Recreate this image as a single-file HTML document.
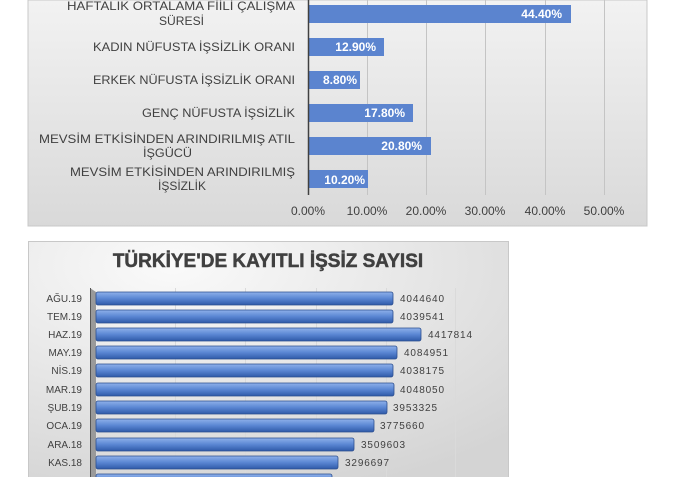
<!DOCTYPE html>
<html><head><meta charset="utf-8"><style>
body{margin:0;width:696px;height:477px;background:#fff;position:relative;overflow:hidden;font-family:"Liberation Sans","DejaVu Sans",sans-serif}
.a{position:absolute}
</style></head><body>
<svg class="a" style="left:0;top:0" width="696" height="477" xmlns="http://www.w3.org/2000/svg">
<defs>
<linearGradient id="bg1" x1="0" y1="0" x2="0" y2="1"><stop offset="0" stop-color="#f2f2f2"/><stop offset="1" stop-color="#d9d9d9"/></linearGradient>
<radialGradient id="bg2" cx="0.3" cy="0.1" r="1"><stop offset="0" stop-color="#fafafa"/><stop offset="1" stop-color="#d4d4d4"/></radialGradient>
<linearGradient id="b2" x1="0" y1="0" x2="0" y2="1"><stop offset="0" stop-color="#8fb1ea"/><stop offset="0.5" stop-color="#5a86d3"/><stop offset="1" stop-color="#2f5aa8"/></linearGradient>
</defs>
<rect x="28" y="0" width="619" height="226" fill="url(#bg1)" stroke="#c8c8c8"/>
<g stroke="#c4c4c4" stroke-width="1">
<line x1="367.5" y1="0" x2="367.5" y2="195"/><line x1="426.5" y1="0" x2="426.5" y2="195"/><line x1="485.5" y1="0" x2="485.5" y2="195"/><line x1="545.5" y1="0" x2="545.5" y2="195"/><line x1="604.5" y1="0" x2="604.5" y2="195"/>
</g>
<g fill="#5b84cf">
<rect x="309" y="5" width="262" height="18"/>
<rect x="309" y="38" width="75" height="18"/>
<rect x="309" y="71" width="51" height="18"/>
<rect x="309" y="104" width="104" height="18"/>
<rect x="309" y="137" width="122" height="18"/>
<rect x="309" y="170" width="59" height="18"/>
</g>
<line x1="308.5" y1="0" x2="308.5" y2="195" stroke="#404040" stroke-width="1.5"/>
<g fill="#fff" font-size="12" font-weight="bold" text-anchor="end" font-family="Liberation Sans,sans-serif">
<text x="562" y="18">44.40%</text><text x="376" y="51">12.90%</text><text x="357" y="84">8.80%</text><text x="405" y="117">17.80%</text><text x="422" y="150">20.80%</text><text x="365" y="184">10.20%</text>
</g>
<g fill="#404040" font-size="12" font-family="Liberation Sans,sans-serif" lengthAdjust="spacingAndGlyphs">
<text x="67" y="10" textLength="228" lengthAdjust="spacingAndGlyphs">HAFTALIK ORTALAMA FİİLİ ÇALIŞMA</text><text x="159" y="25" textLength="45" lengthAdjust="spacingAndGlyphs">SÜRESİ</text>
<text x="93" y="51" textLength="202" lengthAdjust="spacingAndGlyphs">KADIN NÜFUSTA İŞSİZLİK ORANI</text>
<text x="93" y="84" textLength="202" lengthAdjust="spacingAndGlyphs">ERKEK NÜFUSTA İŞSİZLİK ORANI</text>
<text x="142" y="117" textLength="153" lengthAdjust="spacingAndGlyphs">GENÇ NÜFUSTA İŞSİZLİK</text>
<text x="39" y="143" textLength="256" lengthAdjust="spacingAndGlyphs">MEVSİM ETKİSİNDEN ARINDIRILMIŞ ATIL</text><text x="143" y="157" textLength="49" lengthAdjust="spacingAndGlyphs">İŞGÜCÜ</text>
<text x="70" y="176" textLength="225" lengthAdjust="spacingAndGlyphs">MEVSİM ETKİSİNDEN ARINDIRILMIŞ</text><text x="158" y="190" textLength="48" lengthAdjust="spacingAndGlyphs">İŞSİZLİK</text>
</g>
<g fill="#404040" font-size="12" text-anchor="middle" font-family="Liberation Sans,sans-serif">
<text x="308" y="215">0.00%</text><text x="367" y="215">10.00%</text><text x="426" y="215">20.00%</text><text x="485" y="215">30.00%</text><text x="545" y="215">40.00%</text><text x="604" y="215">50.00%</text>
</g>

<rect x="28.5" y="241.5" width="480" height="240" fill="url(#bg2)" stroke="#c8c8c8"/>
<text x="268" y="267" text-anchor="middle" font-size="19" font-weight="bold" fill="#404040" font-family="Liberation Sans,sans-serif" stroke="#404040" stroke-width="0.5">TÜRKİYE'DE KAYITLI İŞSİZ SAYISI</text>
<g stroke="#dadada"><line x1="175.5" y1="288" x2="175.5" y2="477"/><line x1="245.5" y1="288" x2="245.5" y2="477"/><line x1="316.5" y1="288" x2="316.5" y2="477"/><line x1="386.5" y1="288" x2="386.5" y2="477"/><line x1="455.5" y1="288" x2="455.5" y2="477"/></g>
<polygon points="90,288 96,292 96,477 90,477" fill="#9a9a9a"/>
<line x1="90.5" y1="288" x2="90.5" y2="477" stroke="#555"/>
<g fill="url(#b2)" stroke="#2d4f8f" stroke-width="0.8">
<rect x="96" y="292" width="297" height="13" rx="2"/>
<rect x="96" y="310" width="297" height="13" rx="2"/>
<rect x="96" y="328" width="325" height="13" rx="2"/>
<rect x="96" y="346" width="301" height="13" rx="2"/>
<rect x="96" y="364" width="297" height="13" rx="2"/>
<rect x="96" y="383" width="298" height="13" rx="2"/>
<rect x="96" y="401" width="291" height="13" rx="2"/>
<rect x="96" y="419" width="278" height="13" rx="2"/>
<rect x="96" y="438" width="258" height="13" rx="2"/>
<rect x="96" y="456" width="242" height="13" rx="2"/>
<rect x="96" y="474" width="236" height="13" rx="2"/>
</g>
<g fill="#404040" font-size="10" text-anchor="end" font-family="Liberation Sans,sans-serif">
<text x="82" y="302">AĞU.19</text><text x="82" y="320">TEM.19</text><text x="82" y="338">HAZ.19</text><text x="82" y="356">MAY.19</text><text x="82" y="374">NİS.19</text><text x="82" y="393">MAR.19</text><text x="82" y="411">ŞUB.19</text><text x="82" y="429">OCA.19</text><text x="82" y="448">ARA.18</text><text x="82" y="466">KAS.18</text>
</g>
<g fill="#404040" font-size="10" font-family="Liberation Sans,sans-serif">
<text x="400" y="302" textLength="44">4044640</text><text x="400" y="320" textLength="44">4039541</text><text x="428" y="338" textLength="44">4417814</text><text x="404" y="356" textLength="44">4084951</text><text x="400" y="374" textLength="44">4038175</text><text x="400" y="393" textLength="44">4048050</text><text x="393" y="411" textLength="44">3953325</text><text x="380" y="429" textLength="44">3775660</text><text x="361" y="448" textLength="44">3509603</text><text x="345" y="466" textLength="44">3296697</text>
</g>
</svg>
</body></html>
